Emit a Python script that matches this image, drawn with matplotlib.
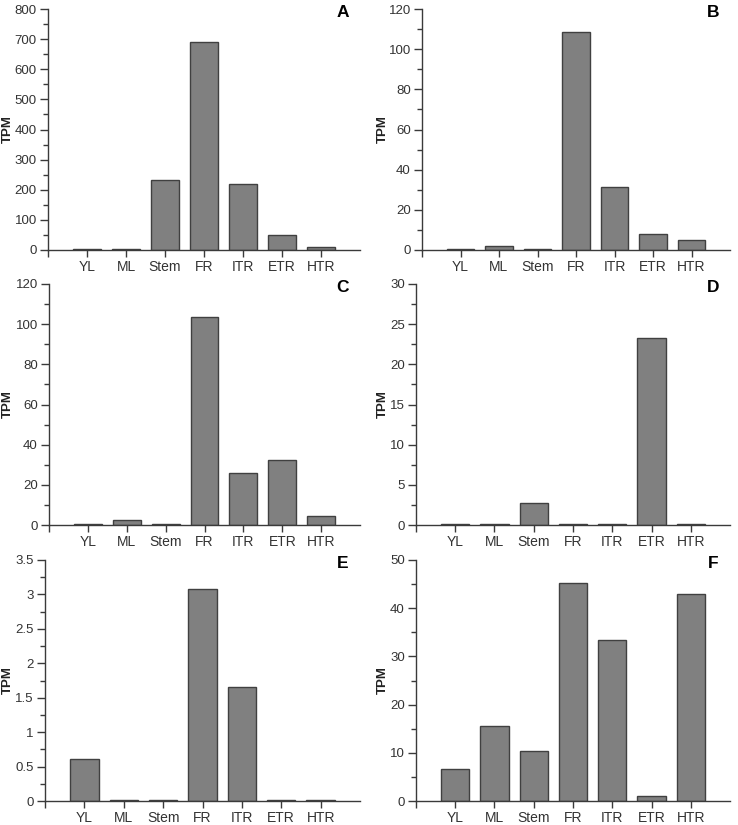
import matplotlib.pyplot as plt
from matplotlib.ticker import MultipleLocator

plt.rcParams['font.family'] = ['Liberation Sans', 'DejaVu Sans']

# tissues on the x axis
tissues = ["YL", "ML", "Stem", "FR", "ITR", "ETR", "HTR"]

# TPM values
tpm_a = [4, 2, 232, 691, 220, 49, 9]
tpm_b = [0.3, 2.0, 0.3, 108.5, 31.2, 7.8, 4.8]
tpm_c = [0.4, 2.3, 0.4, 103.7, 25.7, 32.5, 4.6]
tpm_d = [0.1, 0.1, 2.7, 0.1, 0.1, 23.3, 0.1]
tpm_e = [0.61, 0.01, 0.01, 3.08, 1.66, 0.01, 0.01]
tpm_f = [6.7, 15.6, 10.4, 45.3, 33.5, 1.0, 42.9]

# letter, values, y max, major step
panels = [
    ("A", tpm_a, 800, 100),
    ("B", tpm_b, 120, 20),
    ("C", tpm_c, 120, 20),
    ("D", tpm_d, 30, 5),
    ("E", tpm_e, 3.5, 0.5),
    ("F", tpm_f, 50, 10),
]

W, H = 738, 825
# axes boxes in pixels: left, right, top, bottom, x of the TPM label
boxes = [
    (48, 360, 9, 250, 14), (422, 730, 9, 250, 389),
    (49, 360, 284, 525, 14), (416, 730, 284, 525, 389),
    (45, 360, 560, 801, 14), (416, 730, 560, 801, 389),
]

fig = plt.figure(figsize=(W / 100, H / 100), dpi=100)
dark = "#3a3a3a"
for (letter, vals, ymax, step), (l, r, t, b, lx) in zip(panels, boxes):
    ax = fig.add_axes([l / W, 1 - b / H, (r - l) / W, (b - t) / H])
    x = list(range(1, len(tissues) + 1))
    ax.bar(x, vals, width=0.72, color="#808080", edgecolor="#404040", linewidth=1.0)
    ax.set_xlim(0, 8)
    ax.set_ylim(0, ymax)
    ax.set_xticks([0] + x)
    ax.set_xticklabels([""] + tissues)
    ax.yaxis.set_major_locator(MultipleLocator(step))
    ax.yaxis.set_minor_locator(MultipleLocator(step / 2))
    ax.yaxis.set_major_formatter(plt.FuncFormatter(lambda v, p: f"{v:g}"))
    for s in ["top", "right"]:
        ax.spines[s].set_visible(False)
    for s in ["left", "bottom"]:
        ax.spines[s].set_color(dark)
        ax.spines[s].set_linewidth(1.0)
    ax.tick_params(axis="y", which="major", length=6, width=1, color=dark,
                   labelsize=9.5, labelcolor="#333333", pad=2)
    ax.tick_params(axis="y", which="minor", length=3.5, width=1, color=dark)
    ax.tick_params(axis="x", length=5, width=1, color=dark,
                   labelsize=10, labelcolor="#333333", pad=2)
    ax.set_ylabel("TPM", fontsize=9.5, fontweight="bold", color="#222222")
    ax.yaxis.set_label_coords((lx - l) / (r - l), 0.5)
    ax.text(0.945, 0.985, letter, transform=ax.transAxes, ha="center", va="center",
            fontsize=12.5, fontweight="bold", color="black")

fig.savefig("out.png", dpi=100)
